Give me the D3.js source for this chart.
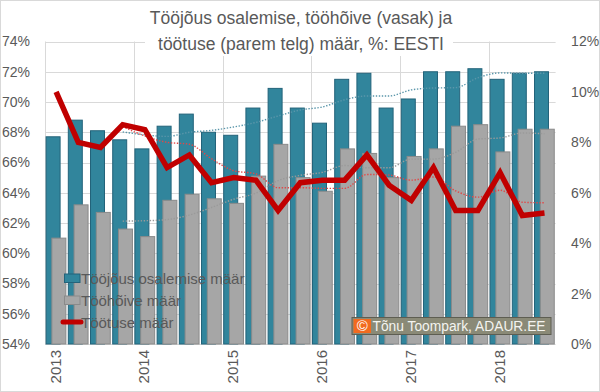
<!DOCTYPE html>
<html>
<head>
<meta charset="utf-8">
<script src="https://cdn.jsdelivr.net/npm/d3@7/dist/d3.min.js"></script>
<style>
  html, body { margin: 0; padding: 0; background: #fff; }
  svg { display: block; font-family: "Liberation Sans", Arial, sans-serif; }
</style>
</head>
<body>
<svg id="chart" width="600" height="392"></svg>
<script>
// ---- Data ----
const quarters = [
  "2013 Q1","2013 Q2","2013 Q3","2013 Q4",
  "2014 Q1","2014 Q2","2014 Q3","2014 Q4",
  "2015 Q1","2015 Q2","2015 Q3","2015 Q4",
  "2016 Q1","2016 Q2","2016 Q3","2016 Q4",
  "2017 Q1","2017 Q2","2017 Q3","2017 Q4",
  "2018 Q1","2018 Q2","2018 Q3"
];
const participation = [67.7,68.8,68.1,67.5,66.9,68.4,69.2,68.0,67.8,69.6,70.9,69.6,68.6,71.5,71.9,69.6,70.2,72.0,72.0,72.2,71.5,71.9,72.0];
const employment    = [61.0,63.2,62.7,61.6,61.1,63.5,63.9,63.6,63.3,65.1,67.2,65.0,64.1,66.9,66.6,65.0,66.4,66.9,68.4,68.5,66.7,68.2,68.2];
const unemployment  = [10.0,8.0,7.8,8.7,8.5,7.0,7.5,6.4,6.6,6.5,5.3,6.4,6.5,6.5,7.5,6.3,5.7,7.0,5.3,5.3,6.8,5.1,5.2];
const leftTicks  = [54,56,58,60,62,64,66,68,70,72,74];
const rightTicks = [0,2,4,6,8,10,12];
const yearTicks  = ["2013 Q1","2014 Q1","2015 Q1","2016 Q1","2017 Q1","2018 Q1"];
const seriesNames = ["Tööjõus osalemise määr","Tööhõive määr","Töötuse määr"];
const titleLines = ["Tööjõus osalemise, tööhõive (vasak) ja","töötuse (parem telg) määr, %: EESTI"];
const copyrightText = "Tõnu Toompark, ADAUR.EE";

// 4-period moving average trendline (as in the original spreadsheet chart)
function movingAverage(arr, n) {
  return arr.map((v, i) => i < n - 1 ? null : d3.mean(arr.slice(i - n + 1, i + 1)));
}

// ---- Layout ----
const svg = d3.select("#chart");
const L = 45, R = 555.6, T = 41.5, B = 344;
const textColor = "#595959";
const gridColor = "#D9D9D9";

const x = d3.scaleBand().domain(quarters).range([L, R]).padding(0);
const bw = x.bandwidth();
const yL = d3.scaleLinear().domain([54, 74]).range([B, T]);
const yR = d3.scaleLinear().domain([0, 12]).range([B, T]);

// chart border
svg.append("rect").attr("x", 0.5).attr("y", 0.5).attr("width", 599).attr("height", 391)
  .attr("fill", "#fff").attr("stroke", gridColor);

// horizontal gridlines
svg.append("g").selectAll("line").data(leftTicks).join("line")
  .attr("x1", L).attr("x2", R)
  .attr("y1", d => Math.round(yL(d)) + 0.5).attr("y2", d => Math.round(yL(d)) + 0.5)
  .attr("stroke", gridColor).attr("stroke-width", 1);

// vertical gridlines at year boundaries
svg.append("g").selectAll("line").data(yearTicks).join("line")
  .attr("x1", d => Math.round(x(d)) + 0.5).attr("x2", d => Math.round(x(d)) + 0.5)
  .attr("y1", T).attr("y2", B)
  .attr("stroke", gridColor).attr("stroke-width", 1);

// title with white background
svg.append("rect").attr("x", 145).attr("y", 2).attr("width", 308).attr("height", 54).attr("fill", "#fff");
svg.append("g").selectAll("text").data(titleLines).join("text")
  .attr("x", 301).attr("y", (d, i) => 24 + i * 26)
  .attr("text-anchor", "middle")
  .attr("font-size", "17.5px").attr("fill", textColor)
  .text(d => d);

// bars
const teal = "#31859C", tealStroke = "#23637A";
const grey = "#A6A6A6", greyStroke = "#8A8A8A";

svg.append("g").selectAll("rect").data(quarters).join("rect")
  .attr("x", (d) => x(d) + bw * 0.05)
  .attr("width", bw * 0.63)
  .attr("y", (d, i) => yL(participation[i]))
  .attr("height", (d, i) => B - yL(participation[i]))
  .attr("fill", teal).attr("stroke", tealStroke).attr("stroke-width", 1);

svg.append("g").selectAll("rect").data(quarters).join("rect")
  .attr("x", (d) => x(d) + bw * 0.31)
  .attr("width", bw * 0.63)
  .attr("y", (d, i) => yL(employment[i]))
  .attr("height", (d, i) => B - yL(employment[i]))
  .attr("fill", grey).attr("stroke", greyStroke).attr("stroke-width", 1);

// moving average trendlines (dotted)
const cx = d => x(d) + bw / 2;
function trend(values, scale, color) {
  const ma = movingAverage(values, 4);
  const line = d3.line()
    .defined((d, i) => ma[i] !== null)
    .x(d => cx(d))
    .y((d, i) => scale(ma[i]))
    .curve(d3.curveMonotoneX);
  svg.append("path").datum(quarters)
    .attr("d", line)
    .attr("fill", "none").attr("stroke", color)
    .attr("stroke-width", 1.4).attr("stroke-dasharray", "1.4,1.6");
}
trend(participation, yL, "#5A96AA");
trend(employment, yL, "#9A9A9A");
trend(unemployment, yR, "#E04848");

// unemployment line
const uLine = d3.line().x(d => cx(d)).y((d, i) => yR(unemployment[i]));
svg.append("path").datum(quarters)
  .attr("d", uLine)
  .attr("fill", "none").attr("stroke", "#C00000")
  .attr("stroke-width", 5.5).attr("stroke-linejoin", "miter").attr("stroke-linecap", "butt");

// axes
const axL = svg.append("g").attr("transform", `translate(${L},0)`)
  .call(d3.axisLeft(yL).tickValues(leftTicks).tickFormat(d => d + "%").tickSize(0).tickPadding(15));
const axR = svg.append("g").attr("transform", `translate(${R},0)`)
  .call(d3.axisRight(yR).tickValues(rightTicks).tickFormat(d => d + "%").tickSize(0).tickPadding(15.5));
const axB = svg.append("g").attr("transform", `translate(0,${B})`)
  .call(d3.axisBottom(x).tickValues(yearTicks).tickFormat(d => d.slice(0, 4)).tickSize(0));
[axL, axR, axB].forEach(a => {
  a.select(".domain").remove();
  a.selectAll("text").attr("fill", textColor).attr("font-size", "14px")
    .attr("font-family", "Liberation Sans, Arial, sans-serif");
});
axB.selectAll("text")
  .attr("font-size", "15px")
  .attr("text-anchor", "end")
  .attr("dy", null).attr("y", null)
  .attr("dominant-baseline", "central")
  .attr("transform", "translate(-1,6) rotate(-90)");

// legend
const lg = svg.append("g");
const legendY = [278.5, 300.5, 322];
lg.append("rect").attr("x", 64.5).attr("y", legendY[0] - 4.5).attr("width", 15.5).attr("height", 8.5)
  .attr("fill", teal).attr("stroke", tealStroke);
lg.append("rect").attr("x", 64.5).attr("y", legendY[1] - 4.5).attr("width", 15.5).attr("height", 8.5)
  .attr("fill", grey).attr("stroke", greyStroke);
lg.append("line").attr("x1", 63).attr("x2", 81).attr("y1", legendY[2]).attr("y2", legendY[2])
  .attr("stroke", "#C00000").attr("stroke-width", 5).attr("stroke-linecap", "round");
lg.selectAll("text").data(seriesNames).join("text")
  .attr("x", 81).attr("y", (d, i) => legendY[i] + 5.5)
  .attr("font-size", "15px").attr("fill", textColor)
  .text(d => d);

// copyright badge
const cb = svg.append("g");
cb.append("rect").attr("x", 352).attr("y", 317.5).attr("width", 199).attr("height", 17)
  .attr("fill", "#8A8A77").attr("stroke", "#5E5E52").attr("stroke-width", 1);
cb.append("rect").attr("x", 353.5).attr("y", 319).attr("width", 17.5).attr("height", 14)
  .attr("fill", "#F26A1F");
cb.append("text").attr("x", 362.2).attr("y", 331).attr("text-anchor", "middle")
  .attr("font-size", "15px").attr("fill", "#fff").text("©");
cb.append("text").attr("x", 372.5).attr("y", 331)
  .attr("font-size", "13.8px").attr("fill", "#F4F4F0").text(copyrightText);
</script>
</body>
</html>
